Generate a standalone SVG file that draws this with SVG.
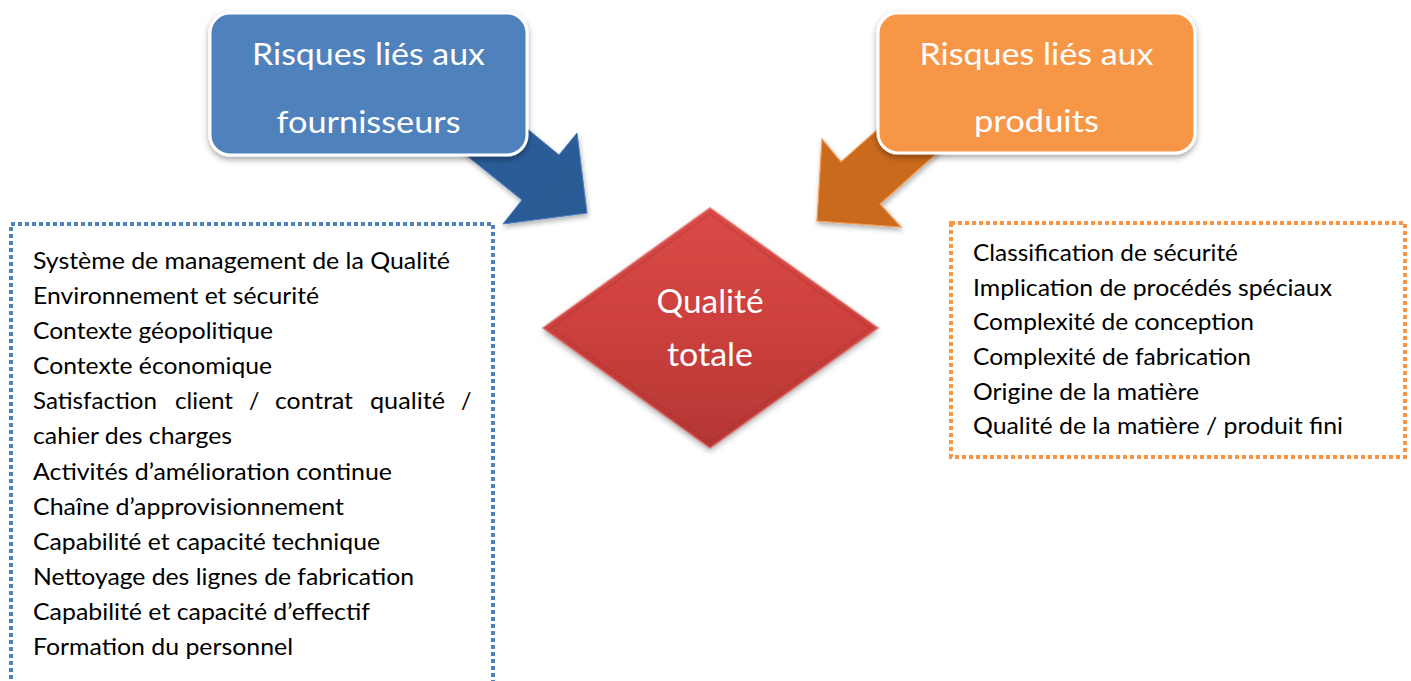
<svg xmlns="http://www.w3.org/2000/svg" width="1411" height="681" viewBox="0 0 1411 681">
  <defs>
    <filter id="shadow" x="-20%" y="-20%" width="140%" height="150%">
      <feDropShadow dx="0" dy="3" stdDeviation="3" flood-color="#000" flood-opacity="0.35"/>
    </filter>
    <filter id="shadowSoft" x="-20%" y="-20%" width="140%" height="150%">
      <feDropShadow dx="1" dy="3" stdDeviation="2.5" flood-color="#000" flood-opacity="0.3"/>
    </filter>
    <linearGradient id="gBlueArrow" x1="0" y1="0" x2="1" y2="1">
      <stop offset="0" stop-color="#2E5F9C"/>
      <stop offset="1" stop-color="#2A5A94"/>
    </linearGradient>
    <linearGradient id="gOrangeArrow" x1="1" y1="0" x2="0" y2="1">
      <stop offset="0" stop-color="#CB6B1E"/>
      <stop offset="1" stop-color="#C96A1F"/>
    </linearGradient>
    <linearGradient id="gRed" x1="0" y1="0" x2="0" y2="1">
      <stop offset="0" stop-color="#DA4A47"/>
      <stop offset="0.5" stop-color="#CC403D"/>
      <stop offset="1" stop-color="#B43734"/>
    </linearGradient>
    <style>
      .title { font-family: Lato, "Open Sans", "Liberation Sans", sans-serif; font-size: 30px; fill: #FFFFFF; text-anchor: middle; }
      .center { font-family: Lato, "Open Sans", "Liberation Sans", sans-serif; font-size: 32px; fill: #FFFFFF; text-anchor: middle; }
      .item { font-family: Lato, "Open Sans", "Liberation Sans", sans-serif; font-size: 23px; fill: #000000; }
      .box { stroke-width: 3; stroke: #FFFFFF; filter: url(#shadow); }
      .dotBlue { fill: none; stroke: #4F81BD; stroke-width: 4; stroke-dasharray: 4 3; }
      .dotOrange { fill: none; stroke: #F79646; stroke-width: 4; stroke-dasharray: 4 3; }
    </style>
  </defs>
  <rect width="1411" height="681" fill="#FFFFFF"/>

  <g id="connectors">
    <polygon id="arrow-fournisseurs" points="440,57 559,155 577,133 587,213 503,224 522,200 440,134" fill="url(#gBlueArrow)" stroke="#4A7CC0" stroke-width="1" filter="url(#shadowSoft)"/>
    <polygon id="arrow-produits" points="965,52 841,162 822,139 817,221 901,227 880,204 965,128" fill="url(#gOrangeArrow)" stroke="#F3994E" stroke-width="1.2" filter="url(#shadowSoft)"/>
  </g>

  <g id="node-fournisseurs">
    <rect class="box" x="210" y="13" width="317" height="142" rx="20" ry="20" fill="#4F81BD"/>
    <text class="title" x="368.5" y="65" textLength="233" lengthAdjust="spacingAndGlyphs">Risques liés aux</text>
    <text class="title" x="368.5" y="133" textLength="184" lengthAdjust="spacingAndGlyphs">fournisseurs</text>
  </g>

  <g id="node-produits">
    <rect class="box" x="878" y="13" width="317" height="140" rx="20" ry="20" fill="#F79646"/>
    <text class="title" x="1036.5" y="65" textLength="234" lengthAdjust="spacingAndGlyphs">Risques liés aux</text>
    <text class="title" x="1036.5" y="132" textLength="125" lengthAdjust="spacingAndGlyphs">produits</text>
  </g>

  <g id="node-qualite">
    <polygon points="710,208 878,328 710,448 543,328" fill="url(#gRed)" filter="url(#shadow)"/>
    <polygon points="710,208 878,328 710,448 543,328" fill="none" stroke="#E06A66" stroke-width="2" stroke-opacity="0.6"/>
    <polygon points="710,214 870,328 710,442 551,328" fill="none" stroke="#9E2E2C" stroke-width="2" stroke-opacity="0.25"/>
    <text class="center" x="710" y="313" textLength="107" lengthAdjust="spacingAndGlyphs">Qualité</text>
    <text class="center" x="710" y="366" textLength="86" lengthAdjust="spacingAndGlyphs">totale</text>
  </g>

  <g id="node-list-fournisseurs">
    <path class="dotBlue" d="M11,700 L11,224 L493,224 L493,700"/>
    <text class="item" x="33" y="269" textLength="417" lengthAdjust="spacingAndGlyphs">Système de management de la Qualité</text>
    <text class="item" x="33" y="304" textLength="286" lengthAdjust="spacingAndGlyphs">Environnement et sécurité</text>
    <text class="item" x="33" y="339" textLength="240" lengthAdjust="spacingAndGlyphs">Contexte géopolitique</text>
    <text class="item" x="33" y="374" textLength="239" lengthAdjust="spacingAndGlyphs">Contexte économique</text>
    <text class="item" y="409"><tspan x="33" textLength="124" lengthAdjust="spacingAndGlyphs">Satisfaction</tspan><tspan x="175" textLength="58" lengthAdjust="spacingAndGlyphs">client</tspan><tspan x="249">/</tspan><tspan x="275" textLength="78" lengthAdjust="spacingAndGlyphs">contrat</tspan><tspan x="370" textLength="75" lengthAdjust="spacingAndGlyphs">qualité</tspan><tspan x="461">/</tspan></text>
    <text class="item" x="33" y="444" textLength="199" lengthAdjust="spacingAndGlyphs">cahier des charges</text>
    <text class="item" x="33" y="480" textLength="359" lengthAdjust="spacingAndGlyphs">Activités d’amélioration continue</text>
    <text class="item" x="33" y="515" textLength="311" lengthAdjust="spacingAndGlyphs">Chaîne d’approvisionnement</text>
    <text class="item" x="33" y="550" textLength="347" lengthAdjust="spacingAndGlyphs">Capabilité et capacité technique</text>
    <text class="item" x="33" y="585" textLength="381" lengthAdjust="spacingAndGlyphs">Nettoyage des lignes de fabrication</text>
    <text class="item" x="33" y="620" textLength="337" lengthAdjust="spacingAndGlyphs">Capabilité et capacité d’effectif</text>
    <text class="item" x="33" y="655" textLength="260" lengthAdjust="spacingAndGlyphs">Formation du personnel</text>
  </g>

  <g id="node-list-produits">
    <rect class="dotOrange" x="951" y="223" width="454" height="234"/>
    <text class="item" x="973" y="261" textLength="265" lengthAdjust="spacingAndGlyphs">Classification de sécurité</text>
    <text class="item" x="973" y="296" textLength="359" lengthAdjust="spacingAndGlyphs">Implication de procédés spéciaux</text>
    <text class="item" x="973" y="330" textLength="281" lengthAdjust="spacingAndGlyphs">Complexité de conception</text>
    <text class="item" x="973" y="365" textLength="278" lengthAdjust="spacingAndGlyphs">Complexité de fabrication</text>
    <text class="item" x="973" y="400" textLength="226" lengthAdjust="spacingAndGlyphs">Origine de la matière</text>
    <text class="item" x="973" y="434" textLength="370" lengthAdjust="spacingAndGlyphs">Qualité de la matière / produit fini</text>
  </g>
</svg>
